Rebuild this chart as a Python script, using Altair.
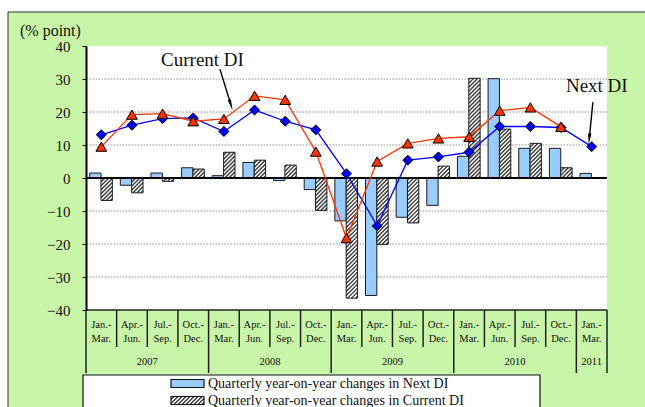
import altair as alt
import numpy as np
import pandas as pd

# ---------------------------------------------------------------- data
quarter_top = ["Jan.-", "Apr.-", "Jul.-", "Oct.-"] * 4 + ["Jan.-"]
quarter_bottom = ["Mar.", "Jun.", "Sep.", "Dec."] * 4 + ["Mar."]
years = ["2007", "2008", "2009", "2010", "2011"]
year_quarters = [4, 4, 4, 4, 1]

# DI levels (% point)
next_di = [13.1, 16.0, 18.0, 18.2, 14.1, 20.6, 17.2, 14.6, 1.3, -14.5,
           5.4, 6.4, 7.8, 15.6, 15.6, 15.3, 9.5]
current_di = [9.5, 19.2, 19.5, 17.2, 17.9, 24.9, 23.7, 8.0, -18.2, 5.0,
              10.5, 12.0, 12.5, 20.4, 21.4, 15.5]

# Quarterly year-on-year changes (% point)
next_change = [1.5, -2.2, 1.5, 3.1, 0.7, 4.7, -0.8, -3.5, -13.0, -35.6,
               -11.9, -8.3, 6.6, 30.1, 9.0, 9.0, 1.4]
current_change = [-6.8, -4.5, -1.0, 2.7, 7.8, 5.4, 3.9, -9.8, -36.4, -20.1,
                  -13.6, 3.6, 30.2, 14.8, 10.5, 3.1]

legend_labels = ["Quarterly year-on-year changes in Next DI",
                 "Quarterly year-on-year changes in Current DI"]

# ---------------------------------------------------------------- layout
W, H = 521, 264
N = len(quarter_top)
PX = W / N          # pixels per quarter
PY = H / 80.0       # pixels per % point
SERIF = "Liberation Serif"
GREEN = "#c8f5a8"
BAR_BLUE = "#99ccff"
RED = "#ff3300"
BLUE = "#0000ff"

x_scale = alt.Scale(domain=[0, N], nice=False, zero=False)
y_scale = alt.Scale(domain=[-40, 40], nice=False)
y_axis = alt.Axis(values=list(range(-40, 41, 10)), grid=False,
                  domainColor="black", domainWidth=2,
                  tickColor="black", tickSize=4, tickWidth=1,
                  labelFont=SERIF, labelFontSize=15,
                  labelColor="#111111", labelPadding=12,
                  title=None, zindex=1)


def X(field):
    return alt.X(field, scale=x_scale, axis=None)


def Y(field):
    return alt.Y(field, scale=y_scale, axis=y_axis)


centers = np.arange(N) + 0.5
BAR_L, BAR_M, BAR_R = 0.12, 0.49, 0.86

bars_next = pd.DataFrame({
    "x": np.arange(N) + BAR_L, "x2": np.arange(N) + BAR_M,
    "y": next_change, "y0": 0.0})
nc = len(current_change)
bars_cur = pd.DataFrame({
    "x": np.arange(nc) + BAR_M, "x2": np.arange(nc) + BAR_R,
    "y": current_change, "y0": 0.0})


def hatch_segments(x0, x1, y0, y1, step=4.0):
    """45-degree '/' hatch lines inside a box given in pixel units."""
    w, h = x1 - x0, y1 - y0
    segs = []
    c = -w + (step / 2)
    while c < h:
        a = max(0.0, -c)
        b = min(w, h - c)
        if b > a:
            segs.append((x0 + a, y0 + a + c, x0 + b, y0 + b + c))
        c += step
    return segs


# hatch for each Current DI bar, built in pixel space and mapped back to data
rows = []
for i, v in enumerate(current_change):
    bx0 = (i + BAR_M) * PX
    bx1 = (i + BAR_R) * PX
    by0 = min(0.0, v) * PY
    by1 = max(0.0, v) * PY
    for (xa, ya, xb, yb) in hatch_segments(bx0, bx1, by0, by1):
        rows.append({"x": xa / PX, "y": ya / PY, "x2": xb / PX, "y2": yb / PY})
hatch = pd.DataFrame(rows)

lines_next = pd.DataFrame({"x": centers, "y": next_di})
lines_cur = pd.DataFrame({"x": centers[:len(current_di)], "y": current_di})

# ---------------------------------------------------------------- layers
frame = alt.Chart(pd.DataFrame({"k": [0]})).mark_rect(
    fill=GREEN, stroke="#333333", strokeWidth=1).encode(
    x=alt.value(-78), x2=alt.value(W + 200),
    y=alt.value(-34), y2=alt.value(H + 200))

plot_bg = alt.Chart(pd.DataFrame({"k": [0]})).mark_rect(
    fill="white").encode(
    x=alt.value(0), x2=alt.value(W), y=alt.value(0), y2=alt.value(H))

grid = alt.Chart(pd.DataFrame({"g": [-30, -20, -10, 10, 20, 30]})).mark_rule(
    color="#8c8c8c", strokeWidth=1, strokeDash=[1.5, 1.5]).encode(
    y=Y("g:Q"))

bar_next = alt.Chart(bars_next).mark_rect(
    fill=BAR_BLUE, stroke="#1a1a1a", strokeWidth=1).encode(
    x=X("x:Q"), x2="x2:Q", y=Y("y:Q"), y2="y0:Q")

bar_cur_bg = alt.Chart(bars_cur).mark_rect(fill="white").encode(
    x=X("x:Q"), x2="x2:Q", y=Y("y:Q"), y2="y0:Q")

hatch_lines = alt.Chart(hatch).mark_rule(
    color="#3a3a3a", strokeWidth=1.4).encode(
    x=X("x:Q"), x2="x2:Q", y=Y("y:Q"), y2="y2:Q")

bar_cur_outline = alt.Chart(bars_cur).mark_rect(
    fillOpacity=0, stroke="#1a1a1a", strokeWidth=1).encode(
    x=X("x:Q"), x2="x2:Q", y=Y("y:Q"), y2="y0:Q")

zero_line = alt.Chart(pd.DataFrame({"z": [0]})).mark_rule(
    color="black", strokeWidth=2).encode(y=Y("z:Q"))

line_next = alt.Chart(lines_next).mark_line(
    color=BLUE, strokeWidth=1.3).encode(x=X("x:Q"), y=Y("y:Q"))
pts_next = alt.Chart(lines_next).mark_point(
    shape="diamond", size=100, filled=True, fill=BLUE, stroke="black",
    strokeWidth=1, opacity=1).encode(x=X("x:Q"), y=Y("y:Q"))

line_cur = alt.Chart(lines_cur).mark_line(
    color=RED, strokeWidth=1.3).encode(x=X("x:Q"), y=Y("y:Q"))
pts_cur = alt.Chart(lines_cur).mark_point(
    shape="triangle-up", size=115, filled=True, fill=RED, stroke="black",
    strokeWidth=1, opacity=1).encode(x=X("x:Q"), y=Y("y:Q"))

# ---------------------------------------------------------------- annotations
notes = pd.DataFrame({"label": ["Current DI", "Next DI"],
                      "x": [2.45, 15.66], "y": [33.9, 26.1]})
note_text = alt.Chart(notes).mark_text(
    font=SERIF, fontSize=19, align="left", baseline="alphabetic",
    color="#111111").encode(x=X("x:Q"), y=Y("y:Q"), text="label:N")

arrows = pd.DataFrame({"x": [4.37, 16.54], "y": [33.0, 23.0],
                       "tx": [4.76, 16.41], "ty": [21.2, 10.9]})
# arrowhead placement and rotation from the shaft direction (pixel space)
dxp = (arrows["tx"] - arrows["x"]) * PX
dyp = -(arrows["ty"] - arrows["y"]) * PY
length = np.hypot(dxp, dyp)
ux, uy = dxp / length, dyp / length
arrows["hx"] = arrows["tx"] - 5.0 * ux / PX
arrows["hy"] = arrows["ty"] + 5.0 * uy / PY
arrows["angle"] = np.degrees(np.arctan2(ux, -uy)) % 360

shafts = alt.Chart(arrows).mark_rule(color="black", strokeWidth=1.4).encode(
    x=X("x:Q"), x2="hx:Q", y=Y("y:Q"), y2="hy:Q")
heads = alt.Chart(arrows).mark_point(
    shape="wedge", size=170, filled=True, fill="black", opacity=1,
    strokeWidth=0).encode(
    x=X("hx:Q"), y=Y("hy:Q"), angle=alt.Angle("angle:Q", scale=None))

unit_label = alt.Chart(pd.DataFrame({"t": ["(% point)"]})).mark_text(
    font=SERIF, fontSize=16, align="left", baseline="middle",
    color="#111111").encode(
    x=alt.value(-66), y=alt.value(-15), text="t:N")

# ---------------------------------------------------------------- category table
qdf = pd.DataFrame({"x": centers, "top": quarter_top, "bottom": quarter_bottom})
q_top = alt.Chart(qdf).mark_text(
    font=SERIF, fontSize=10.5, color="#111111", baseline="middle").encode(
    x=X("x:Q"), y=alt.value(H + 15), text="top:N")
q_bot = alt.Chart(qdf).mark_text(
    font=SERIF, fontSize=10.5, color="#111111", baseline="middle").encode(
    x=X("x:Q"), y=alt.value(H + 29), text="bottom:N")

starts = np.concatenate([[0], np.cumsum(year_quarters)])
ydf = pd.DataFrame({"x": (starts[:-1] + starts[1:]) / 2.0, "year": years})
y_text = alt.Chart(ydf).mark_text(
    font=SERIF, fontSize=10.5, color="#111111", baseline="middle").encode(
    x=X("x:Q"), y=alt.value(H + 52), text="year:N")

short_div = pd.DataFrame({"x": [b for b in range(1, N) if b not in starts]})
long_div = pd.DataFrame({"x": starts})
div_short = alt.Chart(short_div).mark_rule(color="#222222", strokeWidth=1.5).encode(
    x=X("x:Q"), y=alt.value(H), y2=alt.value(H + 37))
div_long = alt.Chart(long_div).mark_rule(color="#222222", strokeWidth=1.5).encode(
    x=X("x:Q"), y=alt.value(H), y2=alt.value(H + 63))
base_line = alt.Chart(pd.DataFrame({"b": [-40]})).mark_rule(
    color="#222222", strokeWidth=1.5).encode(y=Y("b:Q"))

# ---------------------------------------------------------------- legend
LEG_Y = [337.5, 354.5]
leg_box = alt.Chart(pd.DataFrame({"k": [0]})).mark_rect(
    fill="white", stroke="#111111", strokeWidth=1.2).encode(
    x=alt.value(-3), x2=alt.value(454), y=alt.value(329), y2=alt.value(H + 130))
sw_next = alt.Chart(pd.DataFrame({"k": [0]})).mark_rect(
    fill=BAR_BLUE, stroke="#111111", strokeWidth=1.2).encode(
    x=alt.value(85), x2=alt.value(118),
    y=alt.value(LEG_Y[0] - 4), y2=alt.value(LEG_Y[0] + 4))
sw_cur_bg = alt.Chart(pd.DataFrame({"k": [0]})).mark_rect(fill="white").encode(
    x=alt.value(85), x2=alt.value(118),
    y=alt.value(LEG_Y[1] - 4), y2=alt.value(LEG_Y[1] + 4))
sw_rows = [{"x": xa, "y": -ya, "x2": xb, "y2": -yb}
           for (xa, ya, xb, yb) in hatch_segments(85, 118, -(LEG_Y[1] + 4),
                                                    -(LEG_Y[1] - 4))]
sw_hatch = alt.Chart(pd.DataFrame(sw_rows)).mark_rule(
    color="#3a3a3a", strokeWidth=1.4).encode(
    x=alt.X("x:Q", scale=None), x2="x2:Q",
    y=alt.Y("y:Q", scale=None), y2="y2:Q")
sw_cur = alt.Chart(pd.DataFrame({"k": [0]})).mark_rect(
    fillOpacity=0, stroke="#111111", strokeWidth=1.2).encode(
    x=alt.value(85), x2=alt.value(118),
    y=alt.value(LEG_Y[1] - 4), y2=alt.value(LEG_Y[1] + 4))
leg_df = pd.DataFrame({"label": legend_labels, "py": LEG_Y})
leg_text = alt.Chart(leg_df).mark_text(
    font=SERIF, fontSize=14, align="left", baseline="middle",
    color="#111111").encode(
    x=alt.value(122), y=alt.Y("py:Q", scale=None), text="label:N")

chart = alt.layer(
    frame, plot_bg, grid,
    bar_next, bar_cur_bg, hatch_lines, bar_cur_outline,
    zero_line,
    line_next, pts_next, line_cur, pts_cur,
    shafts, heads, note_text, unit_label,
    div_short, div_long, base_line, q_top, q_bot, y_text,
    leg_box, sw_next, sw_cur_bg, sw_hatch, sw_cur, leg_text,
).properties(
    width=W, height=H,
    autosize=alt.AutoSizeParams(type="none"),
    padding={"left": 86, "top": 46, "right": 38, "bottom": 97},
).configure_view(
    stroke="#555555", strokeWidth=1.5
).configure(background="white")

chart.save("out.html", embed_options={"renderer": "svg", "actions": False})
